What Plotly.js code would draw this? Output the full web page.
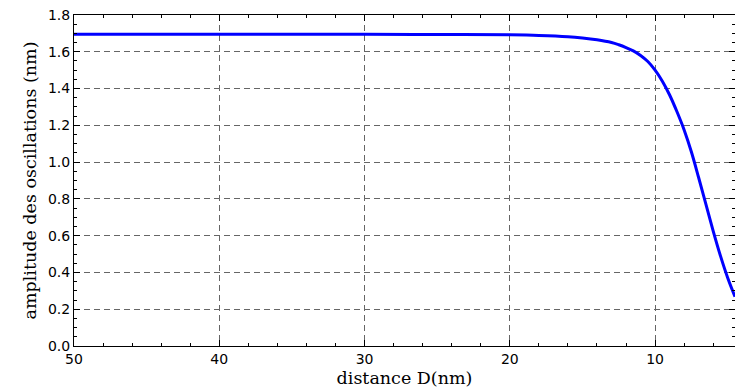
<!DOCTYPE html>
<html>
<head>
<meta charset="utf-8">
<script src="https://cdn.plot.ly/plotly-3.0.1.min.js"></script>
<style>html,body{margin:0;padding:0;background:#fff;}</style>
</head>
<body>
<div id="chart" style="width:735px;height:391px;"></div>
<script>
// distance D (nm)
const distance = [50, 40, 30, 25, 20, 18, 16, 15, 14, 13, 12.5, 12, 11.5, 11, 10.5, 10, 9.5, 9, 8.5, 8, 7.5, 7, 6.5, 6, 5.5, 5, 4.5];
// amplitude des oscillations (nm)
const amplitude = [1.695, 1.695, 1.695, 1.694, 1.692, 1.689, 1.682, 1.675, 1.665, 1.650, 1.638, 1.623, 1.605, 1.580, 1.547, 1.50, 1.440, 1.365, 1.275, 1.175, 1.055, 0.915, 0.770, 0.625, 0.490, 0.370, 0.268];
const xTicks = [50, 40, 30, 20, 10];
const yTicks = [0.0, 0.2, 0.4, 0.6, 0.8, 1.0, 1.2, 1.4, 1.6, 1.8];

const trace = {
  x: distance, y: amplitude, type: 'scatter', mode: 'lines',
  line: {color: '#0000ff', width: 3, shape: 'spline', smoothing: 1},
  hoverinfo: 'skip'
};

const gridColor = '#666666';
const layout = {
  width: 735, height: 391,
  margin: {l: 74, r: 0, t: 15, b: 45, pad: 0},
  paper_bgcolor: '#fff', plot_bgcolor: '#fff',
  showlegend: false,
  font: {family: 'DejaVu Sans', size: 14, color: '#000'},
  xaxis: {
    range: [50, 4.5], tickvals: xTicks, ticktext: xTicks.map(String),
    ticks: 'inside', ticklen: 6, tickcolor: '#000', tickwidth: 1,
    showline: true, linecolor: '#000', linewidth: 1, mirror: 'allticks',
    showgrid: true, gridcolor: gridColor, gridwidth: 1, griddash: '6px,4px',
    zeroline: false,
    tickfont: {family: 'DejaVu Sans', size: 14, color: '#000'},
    minor: {dtick: 2, tick0: 0, ticks: 'inside', ticklen: 3, tickcolor: '#000', showgrid: false},
    title: {text: 'distance D(nm)', font: {family: 'DejaVu Serif', size: 17.5, color: '#000'}, standoff: 5}
  },
  yaxis: {
    range: [0, 1.8], tickvals: yTicks, ticktext: yTicks.map(v => v.toFixed(1)),
    ticks: 'inside', ticklen: 6, tickcolor: '#000', tickwidth: 1,
    showline: true, linecolor: '#000', linewidth: 1, mirror: 'allticks',
    showgrid: true, gridcolor: gridColor, gridwidth: 1, griddash: '6px,4px',
    zeroline: false,
    tickfont: {family: 'DejaVu Sans', size: 14, color: '#000'},
    minor: {dtick: 0.05, tick0: 0, ticks: 'inside', ticklen: 3, tickcolor: '#000', showgrid: false},
    title: {text: 'amplitude des oscillations (nm)', font: {family: 'DejaVu Serif', size: 17.5, color: '#000'}, standoff: 6}
  }
};

Plotly.newPlot('chart', [trace], layout, {staticPlot: true, displayModeBar: false});
</script>
</body>
</html>
